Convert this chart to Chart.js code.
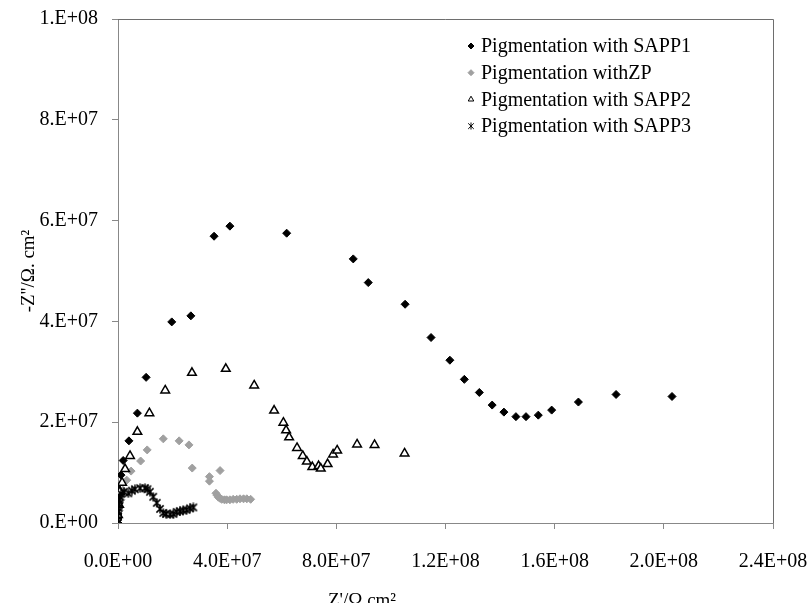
<!DOCTYPE html>
<html>
<head>
<meta charset="utf-8">
<script src="https://cdn.jsdelivr.net/npm/chart.js@4"></script>
<style>
  body { margin: 0; background: #fff; }
  #wrap { width: 811px; height: 603px; }
</style>
</head>
<body>
<div id="wrap"><canvas id="myChart" width="811" height="603"></canvas></div>
<script>
  // values in units of 1E+07
  const sapp1X = [0, 0, 0, 0.02, 0.04, 0.04, 0.04, 0.11, 0.19, 0.40, 0.71, 1.03, 1.97, 2.67, 3.52, 4.10, 6.18, 8.62, 9.17, 10.52, 11.47, 12.16, 12.69, 13.24, 13.71, 14.14, 14.58, 14.95, 15.40, 15.89, 16.87, 18.25, 20.30];
  const sapp1Y = [0, 0.08, 0.18, 0.28, 0.40, 0.54, 0.67, 0.95, 1.24, 1.63, 2.18, 2.89, 3.99, 4.11, 5.69, 5.89, 5.75, 5.24, 4.77, 4.34, 3.68, 3.23, 2.85, 2.59, 2.34, 2.20, 2.11, 2.11, 2.14, 2.24, 2.40, 2.55, 2.51];

  const zpX = [0, 0.04, 0.11, 0.18, 0.32, 0.48, 0.83, 1.07, 1.66, 2.24, 2.60, 2.72, 3.35, 3.35, 3.74, 3.59, 3.63, 3.68, 3.74, 3.80, 3.90, 3.98, 4.10, 4.22, 4.35, 4.47, 4.60, 4.72, 4.86];
  const zpY = [0.06, 0.25, 0.46, 0.65, 0.85, 1.03, 1.23, 1.45, 1.67, 1.63, 1.55, 1.09, 0.92, 0.83, 1.04, 0.59, 0.55, 0.51, 0.49, 0.47, 0.46, 0.46, 0.46, 0.47, 0.47, 0.48, 0.48, 0.48, 0.47];

  const sapp2X = [0, 0.04, 0.07, 0.15, 0.26, 0.44, 0.71, 1.15, 1.73, 2.71, 3.95, 4.99, 5.72, 6.06, 6.16, 6.27, 6.56, 6.77, 6.92, 7.12, 7.35, 7.43, 7.68, 7.88, 8.03, 8.76, 9.40, 10.50];
  const sapp2Y = [0.16, 0.36, 0.62, 0.80, 1.07, 1.33, 1.81, 2.18, 2.63, 2.98, 3.06, 2.73, 2.23, 1.99, 1.84, 1.70, 1.49, 1.33, 1.22, 1.11, 1.13, 1.08, 1.17, 1.36, 1.44, 1.56, 1.55, 1.38];

  const sapp3X = [0, 0, 0, 0, 0.02, 0.04, 0.05, 0.07, 0.11, 0.22, 0.38, 0.51, 0.62, 0.81, 0.99, 1.08, 1.17, 1.29, 1.42, 1.54, 1.66, 1.76, 1.91, 2.03, 2.15, 2.27, 2.39, 2.51, 2.64, 2.76];
  const sapp3Y = [0, 0.06, 0.14, 0.22, 0.30, 0.38, 0.46, 0.52, 0.58, 0.62, 0.59, 0.64, 0.67, 0.69, 0.69, 0.67, 0.62, 0.52, 0.40, 0.28, 0.20, 0.18, 0.17, 0.18, 0.22, 0.23, 0.25, 0.26, 0.29, 0.31];

  const seriesNames = ["Pigmentation with SAPP1", "Pigmentation withZP", "Pigmentation with SAPP2", "Pigmentation with SAPP3"];
  const xTicks = [0, 4e7, 8e7, 1.2e8, 1.6e8, 2.0e8, 2.4e8];
  const yTicks = [0, 2e7, 4e7, 6e7, 8e7, 1e8];
  const xTitle = "Z'/Ω cm²";
  const yTitle = "-Z''/Ω. cm²";

  const FONT = "'Liberation Serif', 'Times New Roman', serif";

  function toPoints(xs, ys) {
    return xs.map((x, i) => ({ x: x * 1e7, y: ys[i] * 1e7 }));
  }

  // excel style asterisk marker (X with a vertical bar)
  function starMarker(size, lw) {
    const c = document.createElement("canvas");
    c.width = size;
    c.height = size;
    const g = c.getContext("2d");
    g.strokeStyle = "#000";
    g.lineWidth = lw;
    const m = size / 2, r = size / 2 - 0.5;
    g.beginPath();
    g.moveTo(m - r * 0.8, m - r * 0.8); g.lineTo(m + r * 0.8, m + r * 0.8);
    g.moveTo(m + r * 0.8, m - r * 0.8); g.lineTo(m - r * 0.8, m + r * 0.8);
    g.moveTo(m, m - r); g.lineTo(m, m + r);
    g.stroke();
    return c;
  }

  function sciLabel(v, digits) {
    if (v === 0) return digits ? "0." + "0".repeat(digits) + "E+00" : "0.E+00";
    const e = Math.floor(Math.log10(Math.abs(v)) + 1e-9);
    const m = v / Math.pow(10, e);
    const ms = digits ? m.toFixed(digits) : Math.round(m) + ".";
    return ms + "E+" + String(e).padStart(2, "0");
  }

  const starBig = starMarker(10, 1.5);
  const starSmall = starMarker(8, 1);

  const styles = [
    { pointStyle: "rectRot", radius: 4, bg: "#000", border: "#000", bw: 1 },
    { pointStyle: "rectRot", radius: 4, bg: "#a0a0a0", border: "#a0a0a0", bw: 1 },
    { pointStyle: "triangle", radius: 5, bg: "#fff", border: "#000", bw: 1.5 },
    { pointStyle: starBig, radius: 5, bg: "#000", border: "#000", bw: 1 },
  ];

  const dataLists = [
    toPoints(sapp1X, sapp1Y),
    toPoints(zpX, zpY),
    toPoints(sapp2X, sapp2Y),
    toPoints(sapp3X, sapp3Y),
  ];

  const datasets = dataLists.map((d, i) => ({
    label: seriesNames[i],
    data: d,
    pointStyle: styles[i].pointStyle,
    pointRadius: styles[i].radius,
    pointBackgroundColor: styles[i].bg,
    pointBorderColor: styles[i].border,
    pointBorderWidth: styles[i].bw,
    showLine: false,
    order: 3 - i,
  }));

  const framePlugin = {
    id: "frame",
    afterDraw(chart) {
      const { ctx, chartArea: a } = chart;
      ctx.save();
      ctx.strokeStyle = "#6e6e6e";
      ctx.lineWidth = 1;
      ctx.beginPath();
      ctx.moveTo(a.left, a.top + 0.5);
      ctx.lineTo(a.right + 0.5, a.top + 0.5);
      ctx.lineTo(a.right + 0.5, a.bottom);
      ctx.stroke();

      // legend
      ctx.font = "20px " + FONT;
      ctx.fillStyle = "#000";
      ctx.textBaseline = "middle";
      ctx.textAlign = "left";
      seriesNames.forEach((name, i) => {
        const y = 46 + i * 26.7;
        const s = styles[i];
        const opts = {
          pointStyle: i === 3 ? starSmall : s.pointStyle,
          radius: i === 2 ? 3.2 : 3,
          borderWidth: 1,
          rotation: 0,
        };
        ctx.fillStyle = s.bg;
        ctx.strokeStyle = s.border;
        ctx.lineWidth = opts.borderWidth;
        Chart.helpers.drawPoint(ctx, opts, 471, y);
        ctx.fillStyle = "#000";
        ctx.fillText(name, 481, y + 1);
      });

      // axis titles
      ctx.font = "19px " + FONT;
      ctx.textAlign = "center";
      ctx.textBaseline = "alphabetic";
      ctx.fillText(xTitle, 362, 606);
      ctx.save();
      ctx.translate(34, 271);
      ctx.rotate(-Math.PI / 2);
      ctx.fillText(yTitle, 0, 0);
      ctx.restore();
      ctx.restore();
    },
  };

  const ctx = document.getElementById("myChart").getContext("2d");
  const chart = new Chart(ctx, {
    type: "scatter",
    data: { datasets: datasets },
    options: {
      responsive: false,
      animation: false,
      events: [],
      layout: { padding: { left: 0, right: 38, top: 19, bottom: 0 } },
      plugins: {
        legend: { display: false },
        tooltip: { enabled: false },
      },
      scales: {
        x: {
          type: "linear",
          min: 0,
          max: 2.4e8,
          afterFit: (s) => {
            s.height = 80;
            s.paddingLeft = 0;
            s.paddingRight = 0;
          },
          afterBuildTicks: (s) => { s.ticks = xTicks.map((v) => ({ value: v })); },
          ticks: {
            color: "#000",
            font: { family: FONT, size: 20 },
            padding: 21,
            maxRotation: 0,
            autoSkip: false,
            callback: (v) => sciLabel(v, 1),
          },
          grid: { drawOnChartArea: false, drawTicks: true, tickLength: 6, color: "#888" },
          border: { color: "#888", width: 1 },
        },
        y: {
          type: "linear",
          min: 0,
          max: 1e8,
          afterFit: (s) => {
            s.width = 118;
            s.paddingTop = 0;
            s.paddingBottom = 0;
          },
          afterBuildTicks: (s) => { s.ticks = yTicks.map((v) => ({ value: v })); },
          ticks: {
            color: "#000",
            font: { family: FONT, size: 20 },
            padding: 14,
            autoSkip: false,
            callback: (v) => sciLabel(v, 0),
          },
          grid: { drawOnChartArea: false, drawTicks: true, tickLength: 6, color: "#888" },
          border: { color: "#888", width: 1 },
        },
      },
    },
    plugins: [framePlugin],
  });
</script>
</body>
</html>
